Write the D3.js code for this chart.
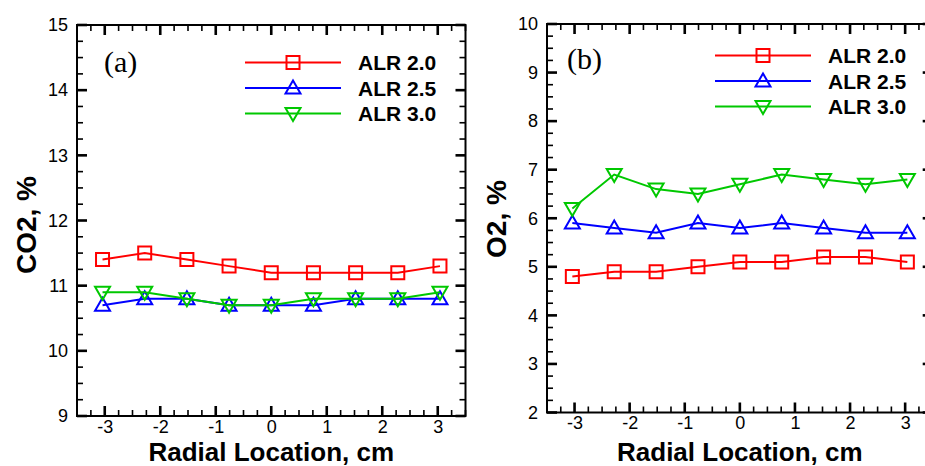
<!DOCTYPE html>
<html>
<head>
<meta charset="utf-8">
<script src="https://cdn.jsdelivr.net/npm/d3@7"></script>
<style>
  html, body { margin: 0; padding: 0; background: #fff; }
  svg { display: block; }
  .tick text { font-family: "Liberation Sans", Arial, sans-serif; font-size: 18px; fill: #000; }
  .domain { display: none; }
</style>
</head>
<body>
<svg id="chart" width="925" height="466"></svg>
<script>
// Radial sampling positions (cm)
const radialCm = [-3.04, -2.28, -1.52, -0.76, 0, 0.76, 1.52, 2.28, 3.04];

// Series names and colours
const seriesNames = ["ALR 2.0", "ALR 2.5", "ALR 3.0"];
const seriesColors = ["#ff0000", "#0000ff", "#00c800"];
const seriesShapes = ["square", "triangleUp", "triangleDown"];

// CO2 concentration, % (panel a)
const co2Alr20 = [11.4, 11.5, 11.4, 11.3, 11.2, 11.2, 11.2, 11.2, 11.3];
const co2Alr25 = [10.7, 10.8, 10.8, 10.7, 10.7, 10.7, 10.8, 10.8, 10.8];
const co2Alr30 = [10.9, 10.9, 10.8, 10.7, 10.7, 10.8, 10.8, 10.8, 10.9];

// O2 concentration, % (panel b)
const o2Alr20 = [4.8, 4.9, 4.9, 5.0, 5.1, 5.1, 5.2, 5.2, 5.1];
const o2Alr25 = [5.9, 5.8, 5.7, 5.9, 5.8, 5.9, 5.8, 5.7, 5.7];
const o2Alr30 = [6.2, 6.9, 6.6, 6.5, 6.7, 6.9, 6.8, 6.7, 6.8];

// Tick labels
const xTicks = [-3, -2, -1, 0, 1, 2, 3];
const co2Ticks = [9, 10, 11, 12, 13, 14, 15];
const o2Ticks = [2, 3, 4, 5, 6, 7, 8, 9, 10];

const svg = d3.select("#chart");

function markerPath(shape) {
  if (shape === "square") return "M-6.5,-6.5H6.5V6.5H-6.5Z";
  if (shape === "triangleUp") return "M0,-7.5L7.5,5.5H-7.5Z";
  return "M0,7.5L7.5,-5.5H-7.5Z";
}

function minorValues(lo, hi, step, majors) {
  const out = [];
  const n = Math.round((hi - lo) / step);
  for (let i = 0; i <= n; i++) {
    const v = +(lo + i * step).toFixed(4);
    if (!majors.some(m => Math.abs(m - v) < 1e-6)) out.push(v);
  }
  return out;
}

function drawPanel(opt) {
  const g = svg.append("g");
  const x = d3.scaleLinear().domain([-3.5, 3.5]).range([opt.left, opt.right]);
  const y = d3.scaleLinear().domain(opt.yDomain).range([opt.bottom, opt.top]);
  const xMinor = minorValues(-3.5, 3.5, 0.25, xTicks);
  const yMinor = minorValues(opt.yDomain[0], opt.yDomain[1], 0.25, opt.yTicks);

  // tick labels
  g.append("g").attr("transform", `translate(0,${opt.bottom})`)
    .call(d3.axisBottom(x).tickValues(xTicks).tickSize(0).tickPadding(4)
      .tickFormat(d => d < 0 ? "-" + Math.abs(d) : String(d)));
  g.append("g").attr("transform", `translate(${opt.left},0)`)
    .call(d3.axisLeft(y).tickValues(opt.yTicks).tickSize(0).tickPadding(9)
      .tickFormat(d3.format("d")));

  // frame
  g.append("rect")
    .attr("x", opt.left).attr("y", opt.top)
    .attr("width", opt.right - opt.left).attr("height", opt.bottom - opt.top)
    .attr("fill", "none").attr("stroke", "#000").attr("stroke-width", 2);

  // inward tick marks on all four sides, drawn as small filled bars
  const xt = xTicks.map(v => ({ v, len: 10, w: 2.6 })).concat(xMinor.map(v => ({ v, len: 6, w: 1.6 })));
  const yt = opt.yTicks.map(v => ({ v, len: 10, w: 2.6 })).concat(yMinor.map(v => ({ v, len: 6, w: 1.6 })));
  const tg = g.append("g").attr("fill", "#000");
  tg.selectAll(null).data(xt).enter().append("rect")
    .attr("x", d => x(d.v) - d.w / 2).attr("y", d => opt.bottom - d.len)
    .attr("width", d => d.w).attr("height", d => d.len);
  tg.selectAll(null).data(xt).enter().append("rect")
    .attr("x", d => x(d.v) - d.w / 2).attr("y", opt.top)
    .attr("width", d => d.w).attr("height", d => d.len);
  tg.selectAll(null).data(yt).enter().append("rect")
    .attr("x", opt.left).attr("y", d => y(d.v) - d.w / 2)
    .attr("width", d => d.len).attr("height", d => d.w);
  tg.selectAll(null).data(yt).enter().append("rect")
    .attr("x", d => opt.right - d.len).attr("y", d => y(d.v) - d.w / 2)
    .attr("width", d => d.len).attr("height", d => d.w);

  // series lines and hollow markers
  const line = d3.line().x((d, i) => x(radialCm[i])).y(d => y(d));
  opt.series.forEach((vals, s) => {
    g.append("path").datum(vals)
      .attr("d", line).attr("fill", "none")
      .attr("stroke", seriesColors[s]).attr("stroke-width", 2);
    g.selectAll(null).data(vals).enter().append("path")
      .attr("d", markerPath(seriesShapes[s]))
      .attr("transform", (d, i) => `translate(${x(radialCm[i])},${y(d)})`)
      .attr("fill", "none").attr("stroke", seriesColors[s]).attr("stroke-width", 2);
  });

  // panel tag
  g.append("text").attr("x", opt.tagX).attr("y", opt.tagY)
    .attr("font-family", "'Liberation Serif', 'Times New Roman', serif")
    .attr("font-size", 30).text(opt.tag);

  // legend
  seriesNames.forEach((name, s) => {
    const ly = opt.legY + s * opt.legStep;
    g.append("line").attr("x1", opt.legX1).attr("x2", opt.legX2)
      .attr("y1", ly).attr("y2", ly)
      .attr("stroke", seriesColors[s]).attr("stroke-width", 2);
    g.append("path").attr("d", markerPath(seriesShapes[s]))
      .attr("transform", `translate(${(opt.legX1 + opt.legX2) / 2},${ly})`)
      .attr("fill", "none").attr("stroke", seriesColors[s]).attr("stroke-width", 2);
    g.append("text").attr("x", opt.legTextX).attr("y", ly + 7.5)
      .attr("font-family", "'Liberation Sans', Arial, sans-serif")
      .attr("font-weight", "bold").attr("font-size", 21).text(name);
  });

  // axis titles
  g.append("text")
    .attr("x", (x(-3.5) + x(3.5)) / 2).attr("y", 460.5)
    .attr("text-anchor", "middle")
    .attr("font-family", "'Liberation Sans', Arial, sans-serif")
    .attr("font-weight", "bold").attr("font-size", 26)
    .text("Radial Location, cm");
  g.append("text")
    .attr("transform", `translate(${opt.yTitleX},${opt.yTitleY}) rotate(-90)`)
    .attr("text-anchor", "middle")
    .attr("font-family", "'Liberation Sans', Arial, sans-serif")
    .attr("font-weight", "bold").attr("font-size", 28)
    .text(opt.yTitle);
}

drawPanel({
  left: 77, right: 465.5, top: 25, bottom: 416,
  yDomain: [9, 15], yTicks: co2Ticks,
  series: [co2Alr20, co2Alr25, co2Alr30],
  tag: "(a)", tagX: 104, tagY: 72,
  legX1: 245, legX2: 341, legY: 62.5, legStep: 25.5, legTextX: 358,
  yTitle: "CO2, %", yTitleX: 36, yTitleY: 225
});

drawPanel({
  left: 547, right: 932.7, top: 24, bottom: 412.5,
  yDomain: [2, 10], yTicks: o2Ticks,
  series: [o2Alr20, o2Alr25, o2Alr30],
  tag: "(b)", tagX: 567, tagY: 69,
  legX1: 715, legX2: 811, legY: 55.5, legStep: 25.5, legTextX: 828,
  yTitle: "O2, %", yTitleX: 506, yTitleY: 219
});
</script>
</body>
</html>
